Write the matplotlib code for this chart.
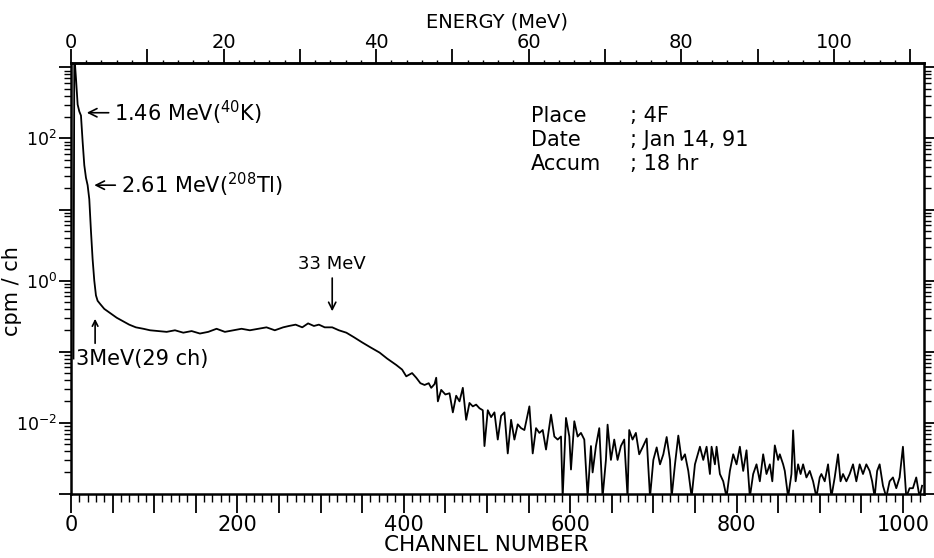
import matplotlib
matplotlib.use('Agg')
import matplotlib.pyplot as plt
from matplotlib.ticker import MultipleLocator, FuncFormatter, LogLocator, NullFormatter
import numpy as np

plt.rcParams['font.family'] = ['DejaVu Sans']
plt.rcParams['mathtext.fontset'] = 'dejavusans'

# spectrum (channel number, cpm/ch)
# low-energy part with the 40K and 208Tl lines
peak_ch = [3, 4, 6, 8, 10, 12, 14, 16, 18, 20, 22, 24, 26, 28, 30, 32, 35]
peak_cpm = [0.08, 1500, 700, 300, 240, 210, 90, 42, 28,
            22, 14, 5.0, 2.0, 1.0, 0.62, 0.52, 0.47]

# continuum and the 33 MeV hump
cont_ch = [40, 47, 55, 62, 70, 78, 87, 95, 105, 115,
           125, 135, 145, 155, 165, 175, 185, 195, 205, 215,
           225, 235, 245, 255, 262, 270, 278, 285, 292, 298,
           305, 314, 322, 331, 340, 350, 360, 371, 380, 391,
           398, 403, 410, 415, 420, 425, 430, 433, 437]
cont_cpm = [0.40, 0.35, 0.30, 0.27, 0.24, 0.22, 0.21, 0.20, 0.195, 0.19,
            0.20, 0.185, 0.195, 0.18, 0.19, 0.21, 0.19, 0.20, 0.21, 0.20,
            0.21, 0.22, 0.20, 0.22, 0.23, 0.24, 0.22, 0.25, 0.23, 0.24,
            0.22, 0.22, 0.20, 0.185, 0.16, 0.135, 0.115, 0.097, 0.08, 0.065,
            0.056, 0.045, 0.05, 0.043, 0.036, 0.034, 0.036, 0.031, 0.035]

# noisy high-energy tail (0.0009 = no counts, sits on the axis)
tail_ch = [439, 441, 445, 450, 455, 459, 463, 467, 471, 475,
           479, 483, 487, 491, 495, 497, 501, 505, 509, 513,
           517, 521, 525, 529, 533, 537, 541, 545, 551, 555,
           559, 563, 567, 571, 577, 581, 585, 589, 591, 595,
           599, 601, 605, 609, 613, 617, 621, 625, 627, 631,
           635, 639, 643, 645, 649, 653, 657, 661, 665, 669,
           671, 675, 679, 683, 687, 692, 696, 700, 704, 708,
           712, 716, 720, 722, 726, 730, 734, 738, 742, 746,
           750, 756, 760, 764, 768, 770, 774, 776, 780, 784,
           788, 792, 796, 800, 804, 808, 812, 816, 820, 824,
           828, 832, 836, 840, 843, 846, 850, 852, 856, 858,
           862, 866, 868, 871, 874, 877, 880, 884, 888, 892,
           896, 900, 902, 906, 910, 914, 918, 922, 925, 928,
           932, 936, 940, 944, 948, 952, 956, 960, 963, 966,
           969, 972, 976, 980, 984, 988, 992, 996, 1000, 1004,
           1008, 1012, 1016, 1020, 1023]
tail_cpm = [0.043, 0.020, 0.029, 0.025, 0.026, 0.014, 0.024, 0.020, 0.031, 0.011,
            0.019, 0.017, 0.018, 0.016, 0.015, 0.0047, 0.015, 0.012, 0.014, 0.0058,
            0.0125, 0.014, 0.0037, 0.011, 0.0058, 0.0095, 0.0084, 0.0079, 0.017, 0.0037,
            0.0084, 0.0072, 0.0079, 0.0042, 0.013, 0.0064, 0.0058, 0.0064, 0.0009, 0.0117,
            0.0064, 0.0022, 0.0105, 0.0064, 0.0072, 0.0058, 0.0009, 0.0047, 0.0020, 0.0047,
            0.0084, 0.0009, 0.0030, 0.0094, 0.0030, 0.0058, 0.0030, 0.0047, 0.0058, 0.0009,
            0.0079, 0.0058, 0.0072, 0.0036, 0.0045, 0.0060, 0.0009, 0.0030, 0.0045, 0.0026,
            0.0036, 0.0063, 0.0030, 0.0009, 0.0026, 0.0066, 0.0030, 0.0036, 0.0021, 0.0009,
            0.0026, 0.0046, 0.0030, 0.0046, 0.0019, 0.0046, 0.0026, 0.0046, 0.0019, 0.0015,
            0.0009, 0.0021, 0.0036, 0.0026, 0.0046, 0.0021, 0.0041, 0.0009, 0.0019, 0.0026,
            0.0015, 0.0036, 0.0019, 0.0026, 0.0015, 0.0048, 0.0030, 0.0036, 0.0026, 0.0021,
            0.0009, 0.0019, 0.0078, 0.0015, 0.0026, 0.0019, 0.0026, 0.0017, 0.0021, 0.0015,
            0.0009, 0.0017, 0.0019, 0.0015, 0.0026, 0.0009, 0.0017, 0.0036, 0.0015, 0.0019,
            0.0015, 0.0019, 0.0026, 0.0015, 0.0026, 0.0019, 0.0026, 0.0021, 0.0015, 0.0009,
            0.0021, 0.0026, 0.0013, 0.0009, 0.0015, 0.0017, 0.0012, 0.0017, 0.0046, 0.0009,
            0.0012, 0.0012, 0.0017, 0.0009, 0.0013]

CH_PER_MEV = 9.17  # energy calibration used for the top scale

channel = peak_ch + cont_ch + tail_ch
cpm = peak_cpm + cont_cpm + tail_cpm

fig = plt.figure(figsize=(9.34, 5.58), dpi=100)
ax = fig.add_axes([0.076, 0.115, 0.913, 0.772])
ax.plot(channel, cpm, color='black', lw=1.3)

ax.set_yscale('log')
ax.set_xlim(0, 1025)
ax.set_ylim(1e-3, 1.15e3)

for s in ax.spines.values():
    s.set_linewidth(1.8)

# y axis: decades, labels on even powers only
def ylab(v, pos):
    e = int(round(np.log10(v)))
    return f'$10^{{{e}}}$' if e % 2 == 0 else ''

ax.yaxis.set_major_locator(LogLocator(base=10, numticks=20))
ax.yaxis.set_major_formatter(FuncFormatter(ylab))
ax.yaxis.set_minor_locator(LogLocator(base=10, subs=np.arange(2, 10), numticks=20))
ax.yaxis.set_minor_formatter(NullFormatter())
ax.tick_params(axis='y', which='major', direction='out', length=9, width=1.3,
               labelsize=12.5, right=True, pad=1)
ax.tick_params(axis='y', which='minor', direction='out', length=5, width=1, right=True)

# bottom axis: channel number
ax.xaxis.set_major_locator(MultipleLocator(50))
ax.xaxis.set_major_formatter(FuncFormatter(lambda v, p: f'{int(v)}' if v % 200 == 0 else ''))
ax.xaxis.set_minor_locator(MultipleLocator(10))
ax.tick_params(axis='x', which='major', direction='out', length=14, width=1.3,
               labelsize=15, pad=1)
ax.tick_params(axis='x', which='minor', direction='out', length=6, width=1)

ax.set_xlabel('CHANNEL NUMBER', fontsize=15.5, va='center')
ax.xaxis.set_label_coords(0.487, -0.118)
ax.set_ylabel('cpm / ch', fontsize=15)
ax.yaxis.set_label_coords(-0.058, 0.47)

# top axis: energy
secax = ax.secondary_xaxis('top', functions=(lambda c: c / CH_PER_MEV,
                                             lambda e: e * CH_PER_MEV))
secax.xaxis.set_major_locator(MultipleLocator(10))
secax.xaxis.set_major_formatter(FuncFormatter(lambda v, p: f'{int(v)}' if v % 20 == 0 else ''))
secax.xaxis.set_minor_locator(MultipleLocator(2))
secax.tick_params(which='major', direction='out', length=10, width=1.3, labelsize=14, pad=-2)
secax.tick_params(which='minor', direction='out', length=2, width=1)
secax.spines['top'].set_linewidth(1.8)
secax.set_xlabel('ENERGY (MeV)', fontsize=14, labelpad=4)

# line annotations
arrow = dict(arrowstyle='->', color='black', lw=1.2, shrinkA=2, shrinkB=0)
ax.annotate('1.46 MeV($^{40}$K)', xy=(19, 230), xytext=(52, 230),
            fontsize=15, va='center', ha='left', arrowprops=arrow)
ax.annotate('2.61 MeV($^{208}$Tl)', xy=(28, 22), xytext=(60, 22),
            fontsize=15, va='center', ha='left', arrowprops=arrow)
ax.annotate('', xy=(29, 0.29), xytext=(29, 0.12), arrowprops=arrow)
ax.text(6, 0.08, '3MeV(29 ch)', fontsize=15, va='center', ha='left')
ax.annotate('33 MeV', xy=(314, 0.37), xytext=(314, 1.74),
            fontsize=13, va='center', ha='center', arrowprops=arrow)

# run info block
info = [('Place', '; 4F'), ('Date', '; Jan 14, 91'), ('Accum', '; 18 hr')]
for i, (k, v) in enumerate(info):
    y = 1 - (116 + 24 * i) / 558
    fig.text(531 / 934, y, k, fontsize=15, va='center', ha='left')
    fig.text(630 / 934, y, v, fontsize=15, va='center', ha='left')

fig.savefig('out.png', dpi=100)
